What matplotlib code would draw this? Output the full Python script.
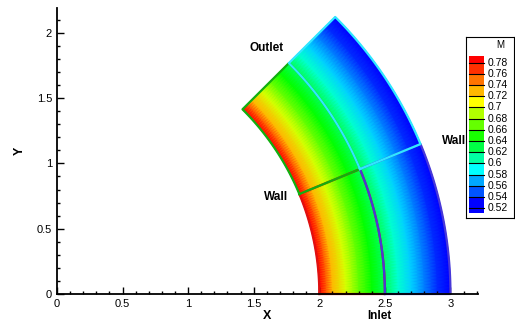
import numpy as np
import matplotlib.pyplot as plt
from matplotlib.colors import LinearSegmentedColormap, Normalize
from matplotlib.patches import Rectangle

plt.rcParams['font.family'] = ['Liberation Sans', 'DejaVu Sans']

# Mach number across the bend (constant along each arc)
radius = [2.0, 2.1, 2.2, 2.3, 2.4, 2.5, 2.6, 2.7, 2.8, 2.9, 3.0]
mach = [0.785, 0.73, 0.70, 0.67, 0.645, 0.625, 0.60, 0.58, 0.56, 0.54, 0.52]

legend_levels = [0.78, 0.76, 0.74, 0.72, 0.70, 0.68, 0.66, 0.64,
                 0.62, 0.60, 0.58, 0.56, 0.54, 0.52]
legend_text = ['0.78', '0.76', '0.74', '0.72', '0.7', '0.68', '0.66', '0.64',
               '0.62', '0.6', '0.58', '0.56', '0.54', '0.52']

# block outlines: (r_in, r_out, deg_start, deg_end)
zones = [(2.0, 2.5, 0.0, 22.5),
         (2.5, 3.0, 0.0, 22.5),
         (2.0, 2.5, 22.5, 45.0),
         (2.5, 3.0, 22.5, 45.0)]
zone_colors = ['#e01010', '#4838d8', '#10b010', '#30e8ff']

xticks = [0, 0.5, 1, 1.5, 2, 2.5, 3]
xtick_labels = ['0', '0.5', '1', '1.5', '2', '2.5', '3']
yticks = [0, 0.5, 1, 1.5, 2]
ytick_labels = ['0', '0.5', '1', '1.5', '2']

cmap = LinearSegmentedColormap.from_list(
    'rainbow_small',
    [(0.0, (0.0, 0.0, 1.0)), (0.07, (0.0, 0.0, 1.0)), (0.286, (0.0, 1.0, 1.0)),
     (0.48, (0.0, 1.0, 0.0)), (0.714, (1.0, 1.0, 0.0)), (0.98, (1.0, 0.0, 0.0)),
     (1.0, (1.0, 0.0, 0.0))])
norm = Normalize(0.51, 0.79)

fig = plt.figure(figsize=(5.15, 3.23), dpi=100)
ax = fig.add_axes([57/515, 29/323, 421/515, 286/323])

theta = np.linspace(0, np.pi/4, 90)
R, T = np.meshgrid(radius, theta)
M = np.tile(mach, (len(theta), 1))
ax.pcolormesh(R*np.cos(T), R*np.sin(T), M, shading='gouraud', cmap=cmap, norm=norm)

for (r0, r1, a0, a1), c in zip(zones, zone_colors):
    t = np.radians(np.linspace(a0, a1, 60))
    xs = np.concatenate([r0*np.cos(t), r1*np.cos(t[::-1]), [r0*np.cos(t[0])]])
    ys = np.concatenate([r0*np.sin(t), r1*np.sin(t[::-1]), [r0*np.sin(t[0])]])
    ax.plot(xs, ys, color=c, lw=1.6, clip_on=False)

ax.set_xlim(0, 3.21)
ax.set_ylim(0, 2.19)
ax.set_xticks(xticks)
ax.set_xticklabels(xtick_labels)
ax.set_yticks(yticks)
ax.set_yticklabels(ytick_labels)
ax.set_xticks(np.arange(0, 3.21, 0.1), minor=True)
ax.set_yticks(np.arange(0, 2.15, 0.1), minor=True)
ax.tick_params(which='both', direction='in', labelsize=8, width=1)
ax.tick_params(which='major', length=5)
ax.tick_params(which='minor', length=2.5)
ax.spines['top'].set_visible(False)
ax.spines['right'].set_visible(False)
for s in ['left', 'bottom']:
    ax.spines[s].set_linewidth(1.3)
ax.set_xlabel('X', fontsize=9, fontweight='bold', labelpad=1)
ax.set_ylabel('Y', fontsize=9, fontweight='bold', labelpad=8)

tk = dict(fontsize=8.5, fontweight='bold', ha='center', va='center', clip_on=False)
ax.text(1.60, 1.885, 'Outlet', **tk)
ax.text(1.67, 0.743, 'Wall', **tk)
ax.text(3.03, 1.17, 'Wall', **tk)
ax.text(2.46, -0.165, 'Inlet', **tk)

# legend box: labels sit on the lines between colour bands
lg = fig.add_axes([466/515, 105/323, 48/515, 181/323])
lg.set_xlim(0, 48)
lg.set_ylim(181, 0)
lg.set_xticks([])
lg.set_yticks([])
for s in lg.spines.values():
    s.set_linewidth(0.8)
lg.text(34, 8, 'M', fontsize=7, ha='center', va='center')
step = 11.18
y0 = 25.7
n = len(legend_levels)
band_vals = [legend_levels[0] + 0.01] + \
    [(legend_levels[i] + legend_levels[i+1]) / 2 for i in range(n - 1)] + \
    [legend_levels[-1] - 0.01]
band_tops = [19] + [y0 + i*step for i in range(n)]
band_bots = [y0 + i*step for i in range(n)] + [y0 + (n - 1)*step + 5]
for v, top, bot in zip(band_vals, band_tops, band_bots):
    lg.add_patch(Rectangle((3, top), 15, bot - top,
                           facecolor=cmap(norm(v)), edgecolor='none'))
for i, txt in enumerate(legend_text):
    yc = y0 + i*step
    lg.plot([3, 18], [yc, yc], color='black', lw=0.8)
    lg.text(22, yc, txt, fontsize=7.5, va='center', ha='left')

fig.savefig('out.png', dpi=100)
